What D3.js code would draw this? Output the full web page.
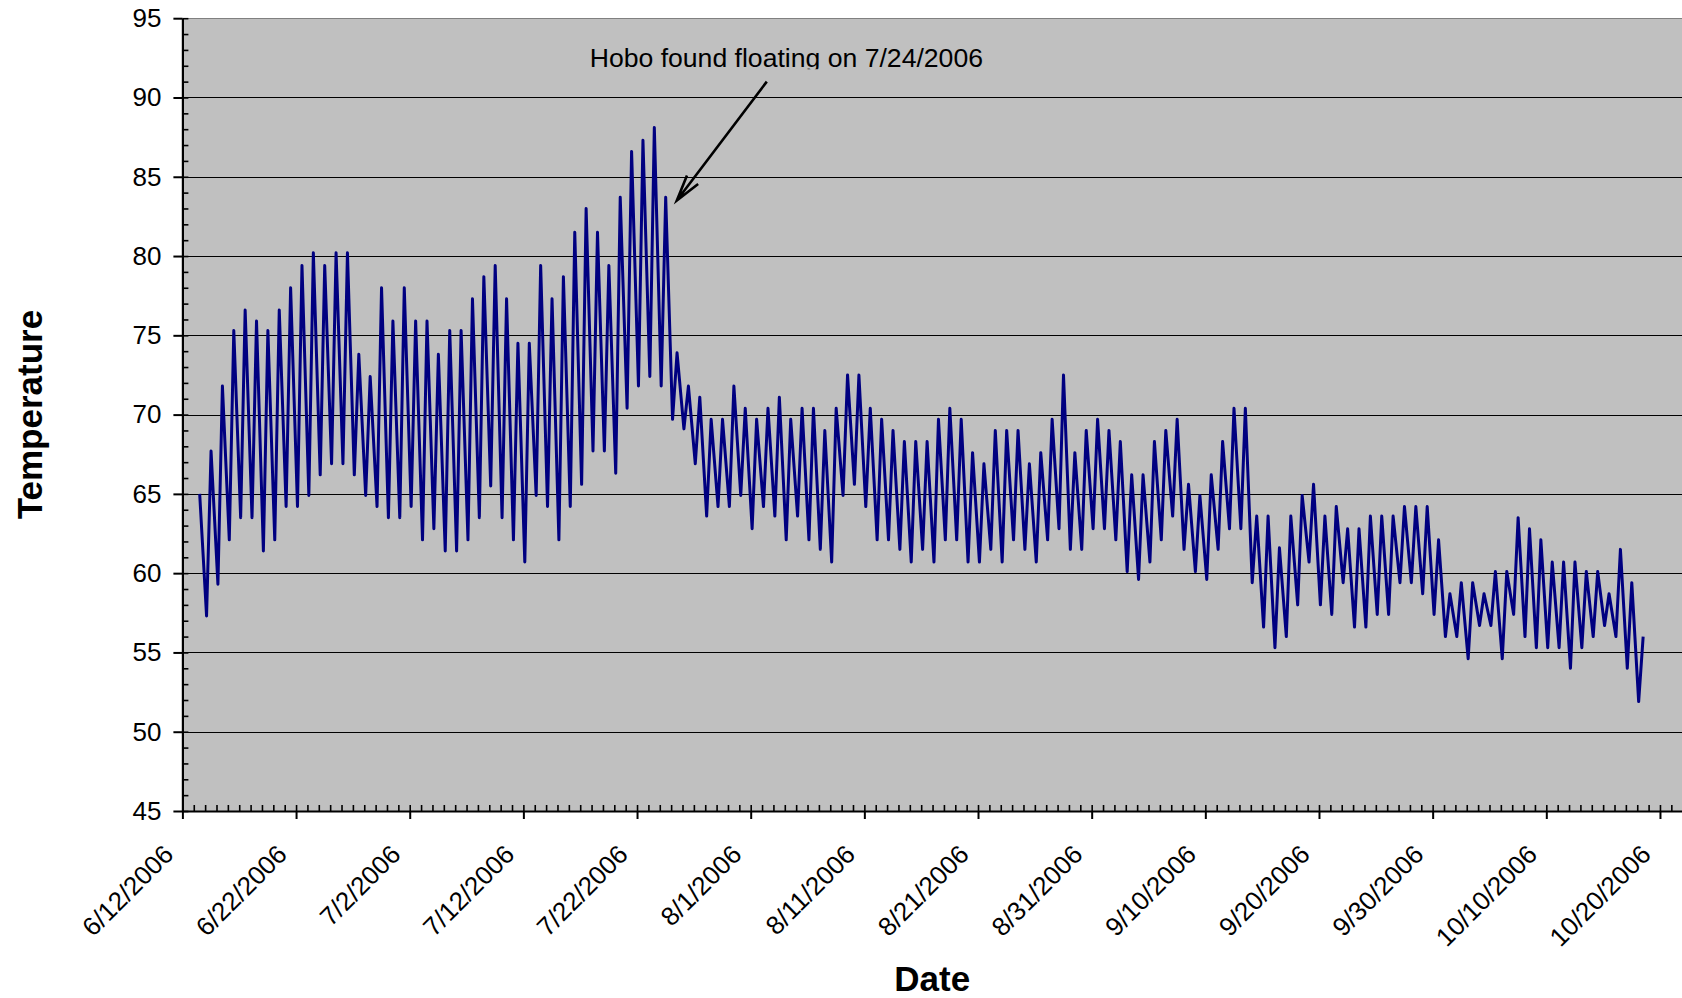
<!DOCTYPE html>
<html>
<head>
<meta charset="utf-8">
<script src="https://cdn.jsdelivr.net/npm/d3@7"></script>
<style>
  html, body { margin: 0; padding: 0; background: #ffffff; }
  svg { display: block; }
  text { font-family: "Liberation Sans", Arial, sans-serif; }
</style>
</head>
<body>
<svg id="chart" width="1682" height="998"></svg>
<script>
// ---------------- DATA ----------------
// First logged day and last axis day
const firstDay = "2006-06-13";
// Daily minimum (early morning) temperatures, 6/13 .. 10/20 (null = not logged)
const dailyLows = [
  null, 57.3, 59.3, 62.1, 63.5, 63.5, 61.4, 62.1, 64.2, 64.2,
  64.9, 66.2, 66.9, 66.9, 66.2, 64.9, 64.2, 63.5, 63.5, 64.2,
  62.1, 62.8, 61.4, 61.4, 62.1, 63.5, 65.5, 63.5, 62.1, 60.7,
  64.9, 64.2, 62.1, 64.2, 65.6, 67.7, 67.7, 66.3, 70.4, 71.8,
  72.4, 71.8, 69.7, 69.1, 66.9, 63.6, 64.2, 64.2, 64.9, 62.8,
  64.2, 63.6, 62.1, 63.6, 62.1, 61.5, 60.7, 64.9, 65.6, 64.2,
  62.1, 62.1, 61.5, 60.7, 61.5, 60.7, 62.1, 62.1, 60.7, 60.7,
  61.5, 60.7, 62.1, 61.5, 60.7, 62.1, 62.8, 61.5, 61.5, 62.8,
  62.8, 62.1, 60.1, 59.6, 60.7, 62.1, 63.6, 61.5, 60.1, 59.6,
  61.5, 62.8, 62.8, 59.4, 56.6, 55.3, 56.0, 58.0, 60.7, 58.0,
  57.4, 59.4, 56.6, 56.6, 57.4, 57.4, 59.4, 59.4, 58.7, 57.4,
  56.0, 56.0, 54.6, 56.7, 56.7, 54.6, 57.4, 56.0, 55.3, 55.3,
  55.3, 54.0, 55.3, 56.0, 56.7, 56.0, 54.0, 51.9
];
// Daily midday readings (peaks), 6/13 .. 10/20 (last one is the final reading)
const dailyHighs = [
  65.0, 67.7, 71.8, 75.3, 76.6, 75.9, 75.3, 76.6, 78.0, 79.4,
  80.2, 79.4, 80.2, 80.2, 73.8, 72.4, 78.0, 75.9, 78.0, 75.9,
  75.9, 73.8, 75.3, 75.3, 77.3, 78.7, 79.4, 77.3, 74.5, 74.5,
  79.4, 77.3, 78.7, 81.5, 83.0, 81.5, 79.4, 83.7, 86.6, 87.3,
  88.1, 83.7, 73.9, 71.8, 71.1, 69.7, 69.7, 71.8, 70.4, 69.7,
  70.4, 71.1, 69.7, 70.4, 70.4, 69.0, 70.4, 72.5, 72.5, 70.4,
  69.7, 69.0, 68.3, 68.3, 68.3, 69.7, 70.4, 69.7, 67.6, 66.9,
  69.0, 69.0, 69.0, 66.9, 67.6, 69.7, 72.5, 67.6, 69.0, 69.7,
  69.0, 68.3, 66.2, 66.2, 68.3, 69.0, 69.7, 65.6, 64.9, 66.2,
  68.3, 70.4, 70.4, 63.6, 63.6, 61.6, 63.6, 64.9, 65.6, 63.6,
  64.2, 62.8, 62.8, 63.6, 63.6, 63.6, 64.2, 64.2, 64.2, 62.1,
  58.7, 59.4, 59.4, 58.7, 60.1, 60.1, 63.5, 62.8, 62.1, 60.7,
  60.7, 60.7, 60.1, 60.1, 58.7, 61.5, 59.4, 56.0
];
const lowHour = 3;      // time of day of the minimum reading
const highHour = 12.5;  // time of day of the peak reading

const xTickLabels = ["6/12/2006","6/22/2006","7/2/2006","7/12/2006","7/22/2006","8/1/2006",
  "8/11/2006","8/21/2006","8/31/2006","9/10/2006","9/20/2006","9/30/2006","10/10/2006","10/20/2006"];
const xDomain = ["2006-06-12", "2006-10-22"];
const yTicks = [45, 50, 55, 60, 65, 70, 75, 80, 85, 90, 95];
const yDomain = [45, 95];

const annotationText = "Hobo found floating on 7/24/2006";
const annotationTextAt = ["2006-07-17T20:00", 91.9];
const arrowFrom = ["2006-08-02T10:00", 91.0];
const arrowTo = ["2006-07-25T12:00", 83.5];

const xTitle = "Date";
const yTitle = "Temperature";

// ---------------- BUILD ----------------
const parseDay = s => new Date(s + "T00:00:00Z");
const parseDT = s => new Date(s + "Z");
const parseMDY = s => { const [m, d, y] = s.split("/").map(Number); return new Date(Date.UTC(y, m - 1, d)); };

const readings = [];
const d0 = parseDay(firstDay);
dailyLows.forEach((lo, i) => {
  const day = d3.utcDay.offset(d0, i);
  if (lo != null) readings.push({ t: d3.utcHour.offset(day, lowHour), v: lo });
  const hi = dailyHighs[i];
  if (hi != null) readings.push({ t: new Date(day.getTime() + highHour * 3600e3), v: hi });
});
readings.sort((a, b) => a.t - b.t);

const W = 1682, H = 998;
const plot = { left: 182.4, top: 18.2, right: 1682.7, bottom: 811 };

const svg = d3.select("#chart");
svg.append("rect").attr("width", W).attr("height", H).attr("fill", "#ffffff");

const x = d3.scaleUtc().domain(xDomain.map(parseDay)).range([plot.left, plot.right]);
const y = d3.scaleLinear().domain(yDomain).range([plot.bottom, plot.top]);

// plot area
svg.append("rect")
  .attr("x", plot.left).attr("y", plot.top)
  .attr("width", plot.right - plot.left).attr("height", plot.bottom - plot.top)
  .attr("fill", "#c0c0c0");

// gridlines
svg.append("g").selectAll("line")
  .data(yTicks.filter(v => v > yDomain[0]))
  .join("line")
  .attr("x1", plot.left).attr("x2", W)
  .attr("y1", d => Math.round(y(d)) + 0.5).attr("y2", d => Math.round(y(d)) + 0.5)
  .attr("stroke", d => d === yDomain[1] ? "#808080" : "#000000")
  .attr("stroke-width", 1);

// data line
svg.append("path")
  .datum(readings)
  .attr("fill", "none")
  .attr("stroke", "#000080")
  .attr("stroke-width", 3)
  .attr("stroke-linejoin", "round")
  .attr("d", d3.line().x(d => x(d.t)).y(d => y(d.v)));

// minor ticks (inside)
const yMinor = d3.range(yDomain[0], yDomain[1] + 0.001, 1);
svg.append("g")
  .attr("transform", `translate(${plot.left},0)`)
  .call(d3.axisRight(y).tickValues(yMinor).tickSize(6).tickFormat(""))
  .call(g => g.select(".domain").remove())
  .call(g => g.selectAll("line").attr("stroke", "#000").attr("stroke-width", 1.6));

const xMinor = d3.utcDay.range(x.domain()[0], x.domain()[1]);
svg.append("g")
  .attr("transform", `translate(0,${plot.bottom})`)
  .call(d3.axisTop(x).tickValues(xMinor).tickSize(6).tickFormat(""))
  .call(g => g.select(".domain").remove())
  .call(g => g.selectAll("line").attr("stroke", "#000").attr("stroke-width", 1.6));

// y axis
const yAxis = svg.append("g")
  .attr("transform", `translate(${plot.left},0)`)
  .call(d3.axisLeft(y).tickValues(yTicks).tickSize(9).tickSizeOuter(0).tickPadding(12).tickFormat(d3.format("d")));
yAxis.select(".domain").attr("stroke", "#000").attr("stroke-width", 2.2);
yAxis.selectAll("line").attr("stroke", "#000").attr("stroke-width", 2);
yAxis.selectAll("text")
  .attr("font-family", "'Liberation Sans', Arial, sans-serif")
  .attr("font-size", 26).attr("fill", "#000");

// x axis
const xTickDates = xTickLabels.map(parseMDY);
const xAxis = svg.append("g")
  .attr("transform", `translate(0,${plot.bottom})`)
  .call(d3.axisBottom(x).tickValues(xTickDates).tickSize(8).tickSizeOuter(0)
    .tickFormat((d, i) => xTickLabels[i]));
xAxis.select(".domain").attr("stroke", "#000").attr("stroke-width", 2.2);
xAxis.selectAll("line").attr("stroke", "#000").attr("stroke-width", 2);
xAxis.selectAll("text")
  .attr("font-family", "'Liberation Sans', Arial, sans-serif")
  .attr("font-size", 26).attr("fill", "#000")
  .attr("text-anchor", "end")
  .attr("y", 0).attr("dy", 0)
  .attr("transform", "translate(-8,45) rotate(-45)");

// axis titles
svg.append("text")
  .attr("transform", `translate(42,${(plot.top + plot.bottom) / 2}) rotate(-90)`)
  .attr("text-anchor", "middle")
  .attr("font-size", 35).attr("font-weight", "bold")
  .text(yTitle);

svg.append("text")
  .attr("x", (plot.left + W) / 2).attr("y", 991)
  .attr("text-anchor", "middle")
  .attr("font-size", 35).attr("font-weight", "bold")
  .text(xTitle);

// annotation
const defs = svg.append("defs");
const tx = x(parseDT(annotationTextAt[0])), ty = y(annotationTextAt[1]);
defs.append("clipPath").attr("id", "annClip")
  .append("rect").attr("x", tx - 10).attr("y", ty - 40).attr("width", 440).attr("height", 42);
svg.append("text")
  .attr("x", tx).attr("y", ty)
  .attr("font-size", 26.6).attr("fill", "#000")
  .attr("clip-path", "url(#annClip)")
  .text(annotationText);

const ax0 = x(parseDT(arrowFrom[0])), ay0 = y(arrowFrom[1]);
const ax1 = x(parseDT(arrowTo[0])), ay1 = y(arrowTo[1]);
const ang = Math.atan2(ay0 - ay1, ax0 - ax1);
const headLen = 27, headAng = 15 * Math.PI / 180;
const p1 = [ax1 + headLen * Math.cos(ang - headAng), ay1 + headLen * Math.sin(ang - headAng)];
const p2 = [ax1 + headLen * Math.cos(ang + headAng), ay1 + headLen * Math.sin(ang + headAng)];
svg.append("path")
  .attr("d", `M${ax0},${ay0}L${ax1},${ay1}M${p1[0]},${p1[1]}L${ax1},${ay1}L${p2[0]},${p2[1]}`)
  .attr("fill", "none").attr("stroke", "#000").attr("stroke-width", 2.6)
  .attr("stroke-linejoin", "miter");
</script>
</body>
</html>
